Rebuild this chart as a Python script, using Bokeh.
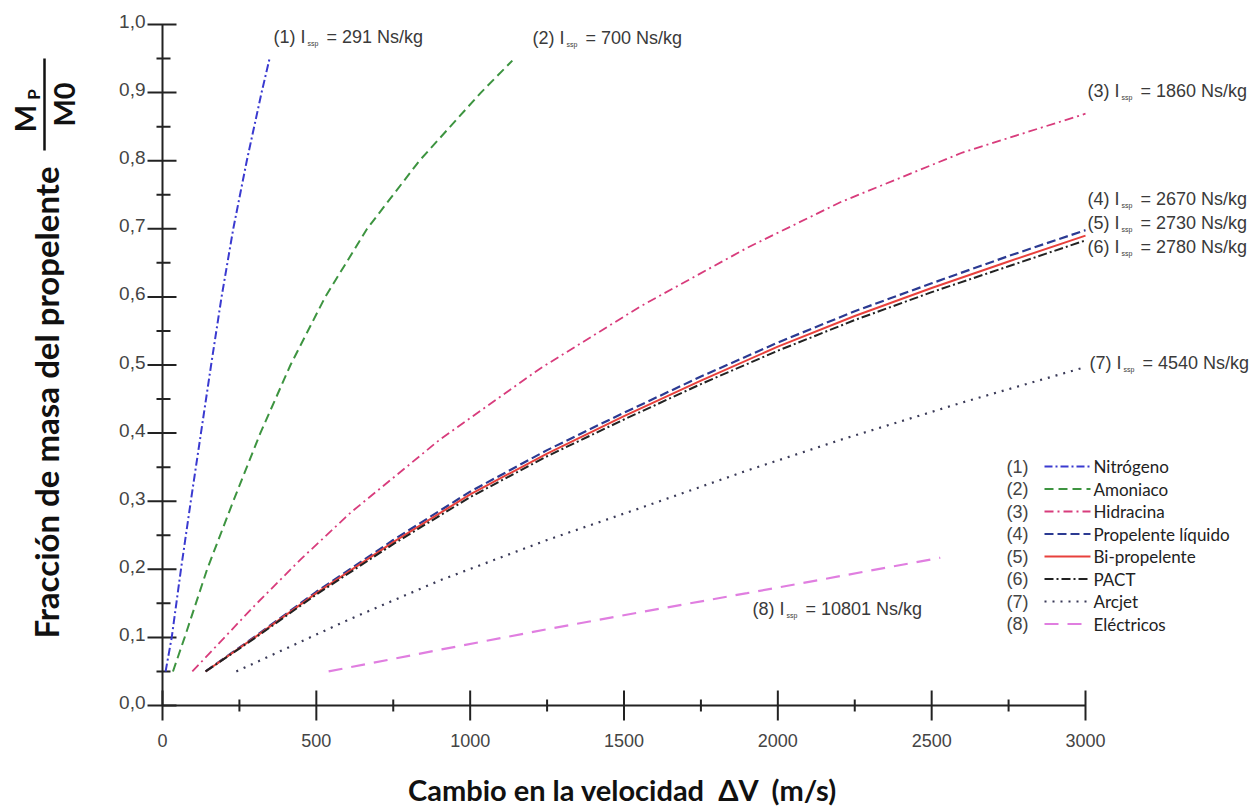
from math import pi
from bokeh.plotting import figure
from bokeh.models import Range1d, Label
from bokeh.core.properties import value
from bokeh.embed import file_html
from bokeh.resources import INLINE

# ---------------- data ----------------
xticks = [0, 500, 1000, 1500, 2000, 2500, 3000]
xminor = [250, 750, 1250, 1750, 2250, 2750]
xtick_labels = ["0", "500", "1000", "1500", "2000", "2500", "3000"]
yticks = [0.0, 0.1, 0.2, 0.3, 0.4, 0.5, 0.6, 0.7, 0.8, 0.9, 1.0]
yminor = [0.05, 0.15, 0.25, 0.35, 0.45, 0.55, 0.65, 0.75, 0.85, 0.95]
ytick_labels = ["0,0", "0,1", "0,2", "0,3", "0,4", "0,5", "0,6", "0,7", "0,8", "0,9", "1,0"]

names = ["Nitrógeno", "Amoniaco", "Hidracina", "Propelente líquido",
         "Bi-propelente", "PACT", "Arcjet", "Eléctricos"]
isp = [291, 700, 1860, 2670, 2730, 2780, 4540, 10801]

dv_nitrogeno = [10, 30, 60, 92, 125, 158, 192, 230, 274, 322, 348]
mf_nitrogeno = [0.05, 0.10, 0.20, 0.30, 0.40, 0.50, 0.60, 0.70, 0.80, 0.90, 0.95]

dv_amoniaco = [34, 72, 145, 230, 318, 416, 529, 665, 835, 1035, 1137]
mf_amoniaco = [0.05, 0.10, 0.20, 0.30, 0.40, 0.50, 0.60, 0.70, 0.80, 0.90, 0.947]

dv_hidracina = [97, 300, 450, 611, 903, 1228, 1553, 1900, 2203, 2600, 3000]
mf_hidracina = [0.05, 0.147, 0.215, 0.283, 0.391, 0.495, 0.586, 0.672, 0.739, 0.812, 0.869]

dv_quimicos = [140, 300, 500, 750, 1000, 1250, 1500, 1750, 2000, 2250, 2500, 2750, 3000]
mf_liquido = [0.05, 0.101, 0.167, 0.243, 0.314, 0.375, 0.43, 0.483, 0.533, 0.579, 0.62, 0.66, 0.698]
mf_bipropelente = [0.05, 0.10, 0.165, 0.24, 0.31, 0.37, 0.425, 0.477, 0.527, 0.572, 0.613, 0.652, 0.69]
mf_pact = [0.05, 0.099, 0.163, 0.237, 0.306, 0.366, 0.42, 0.472, 0.521, 0.566, 0.607, 0.645, 0.683]

dv_arcjet = [240, 600, 903, 1250, 1553, 1900, 2203, 2600, 3000]
mf_arcjet = [0.05, 0.125, 0.184, 0.243, 0.29, 0.345, 0.39, 0.445, 0.497]

dv_electricos = [540, 903, 1250, 1553, 1900, 2203, 2528]
mf_electricos = [0.05, 0.082, 0.112, 0.137, 0.165, 0.19, 0.217]

series_x = [dv_nitrogeno, dv_amoniaco, dv_hidracina, dv_quimicos, dv_quimicos,
            dv_quimicos, dv_arcjet, dv_electricos]
series_y = [mf_nitrogeno, mf_amoniaco, mf_hidracina, mf_liquido, mf_bipropelente,
            mf_pact, mf_arcjet, mf_electricos]

# ---------------- styles ----------------
colors = ["#3a3ad0", "#3d9440", "#d83c7c", "#2b3a92", "#e8413c", "#222222", "#3a3a58", "#e07ee0"]
dashes = ["8 3 2 3", "9 5", "9 4 2 4", "9 4", "solid", "9 3 2 3", "2 6", "14 9"]
widths = [2, 2, 1.8, 2.2, 2, 2, 2.2, 2.2]

W, H = 1254, 807
# page-pixel helpers (the frame covers the whole canvas)
X0, X3000 = 162.0, 1085.0
Y0, Y1 = 705.0, 24.0
SX = 3000.0 / (X3000 - X0)   # data units per pixel (x)
SY = 1.0 / (Y0 - Y1)         # data units per pixel (y)
def dx(px):
    return (px - X0) * SX
def dy(py):
    return (Y0 - py) * SY

p = figure(width=W, height=H,
           x_range=Range1d(dx(0), dx(W)), y_range=Range1d(dy(H), dy(0)),
           output_backend="svg", toolbar_location=None,
           x_axis_location=None, y_axis_location=None,
           min_border_left=0, min_border_right=0, min_border_top=0, min_border_bottom=0)
p.outline_line_color = None
p.grid.visible = False
p.background_fill_color = "white"
p.border_fill_color = "white"

ax_col = "#222222"
lab_col = "#444444"
# axis lines
p.segment(x0=[xticks[0]], y0=[0], x1=[xticks[-1]], y1=[0], line_color=ax_col, line_width=2)
p.segment(x0=[0], y0=[yticks[0]], x1=[0], y1=[yticks[-1]], line_color=ax_col, line_width=2)
# x ticks
p.segment(x0=xticks, y0=[15 * SY] * len(xticks), x1=xticks, y1=[-15 * SY] * len(xticks),
          line_color=ax_col, line_width=2)
p.segment(x0=xminor, y0=[6 * SY] * len(xminor), x1=xminor, y1=[-6 * SY] * len(xminor),
          line_color=ax_col, line_width=2)
# y ticks
p.segment(x0=[-15 * SX] * len(yticks), y0=yticks, x1=[14 * SX] * len(yticks), y1=yticks,
          line_color=ax_col, line_width=2)
p.segment(x0=[-6 * SX] * len(yminor), y0=yminor, x1=[8 * SX] * len(yminor), y1=yminor,
          line_color=ax_col, line_width=2)
# tick labels
p.text(x=xticks, y=[-35 * SY] * len(xticks), text=xtick_labels, text_align="center",
       text_baseline="middle", text_font=value("Liberation Sans"), text_font_size="18px",
       text_color=lab_col)
p.text(x=[-17 * SX] * len(yticks), y=[t + 3 * SY for t in yticks], text=ytick_labels,
       text_align="right", text_baseline="alphabetic", text_font=value("Liberation Sans"),
       text_font_size="19px", text_color=lab_col)

# ---------------- curves ----------------
for xs, ys, c, d, w in zip(series_x, series_y, colors, dashes, widths):
    p.line(xs, ys, line_color=c, line_dash=d, line_width=w)

# ---------------- Isp annotations ----------------
label_pos = [(273, 36), (532, 37), (1087, 90), (1087, 198), (1087, 222), (1087, 246),
             (1089, 362), (752, 608)]
txt_col = "#3a3a3a"
for i, (px, py) in enumerate(label_pos):
    xx, yy = dx(px), dy(py)
    p.add_layout(Label(x=xx, y=yy, text=f"({i + 1}) I", text_baseline="middle",
                       text_font="Liberation Sans", text_font_size="18px", text_color=txt_col))
    p.add_layout(Label(x=xx, y=yy, x_offset=34, y_offset=-7, text="ssp", text_baseline="middle",
                       text_font="Liberation Sans", text_font_size="7px", text_color=txt_col))
    p.add_layout(Label(x=xx, y=yy, x_offset=53, text=f"= {isp[i]} Ns/kg", text_baseline="middle",
                       text_font="Liberation Sans", text_font_size="18px", text_color=txt_col))

# ---------------- legend (custom) ----------------
for i in range(8):
    ry = dy(466 + 22.5 * i)
    p.text([dx(1006)], [ry], text=[f"({i + 1})"], text_baseline="middle",
           text_font=value("Liberation Sans"), text_font_size="18px", text_color=lab_col)
    p.line([dx(1044), dx(1090)], [ry, ry], line_color=colors[i], line_dash=dashes[i],
           line_width=widths[i])
    p.text([dx(1093)], [ry], text=[names[i]], text_baseline="middle",
           text_font=value("Lato"), text_font_size="17px", text_color="#222222")

# ---------------- axis titles ----------------
title_col = "#111111"
NB = "\u00a0"
p.add_layout(Label(x=dx(622), y=dy(789),
                   text=f"Cambio en la velocidad {NB}ΔV {NB}(m/s)",
                   text_align="center", text_baseline="middle", text_font="Lato",
                   text_font_style="bold", text_font_size="29px", text_color=title_col))
p.add_layout(Label(x=dx(45), y=dy(402), text="Fracción de masa del propelente", angle=pi / 2,
                   text_align="center", text_baseline="middle", text_font="Lato",
                   text_font_style="bold", text_font_size="33px", text_color=title_col))
# fraction M_P / M_0
p.add_layout(Label(x=dx(24), y=dy(118), text="M", angle=pi / 2,
                   text_align="center", text_baseline="middle", text_font="Lato",
                   text_font_style="bold", text_font_size="29px", text_color=title_col))
p.add_layout(Label(x=dx(33), y=dy(94), text="P", angle=pi / 2,
                   text_align="center", text_baseline="middle", text_font="Lato",
                   text_font_style="bold", text_font_size="17px", text_color=title_col))
p.add_layout(Label(x=dx(63), y=dy(104), text="M0", angle=pi / 2,
                   text_align="center", text_baseline="middle", text_font="Lato",
                   text_font_style="bold", text_font_size="29px", text_color=title_col))
p.segment(x0=[dx(44)], y0=[dy(58)], x1=[dx(44)], y1=[dy(150)], line_color=title_col,
          line_width=2.5)

open("out.html", "w").write(file_html(p, INLINE))
